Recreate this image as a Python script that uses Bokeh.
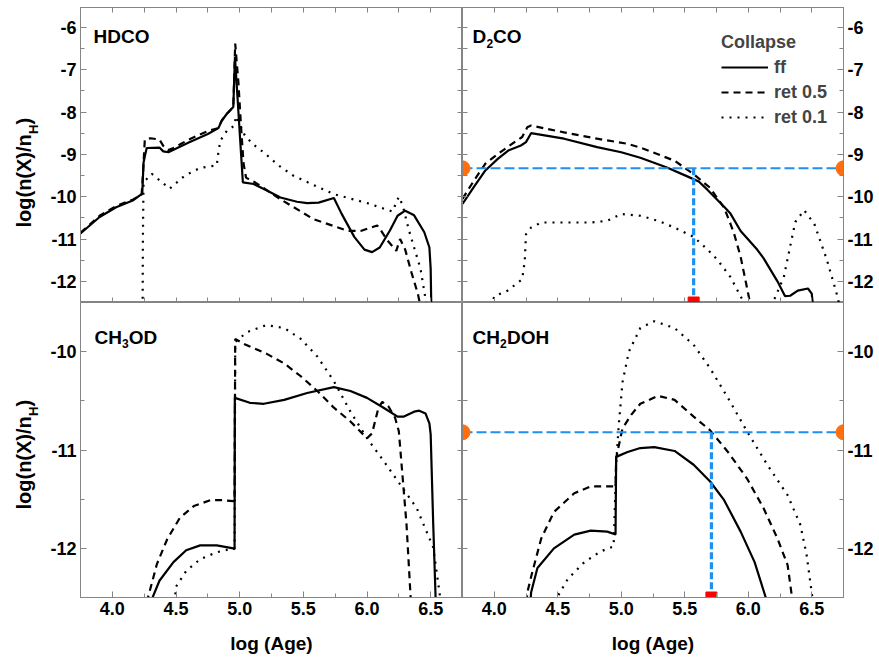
import math
from bokeh.plotting import figure
from bokeh.layouts import gridplot
from bokeh.models import (Range1d, LinearAxis, FixedTicker, PrintfTickFormatter,
                          Label, Legend, LegendItem)
from bokeh.embed import file_html
from bokeh.resources import INLINE

nan = float("nan")

# ---------------- axes / labels ----------------
age_range = (3.75, 6.75)
top_y_range = (-12.5, -5.53)
bottom_y_range = (-12.5, -9.5)
age_ticks = [4.0, 4.5, 5.0, 5.5, 6.0, 6.5]
age_minor = [4.25, 4.75, 5.25, 5.75, 6.25]
top_ticks = [-12, -11, -10, -9, -8, -7, -6]
top_minor = [-11.5, -10.5, -9.5, -8.5, -7.5, -6.5]
bottom_ticks = [-12, -11, -10]
bottom_minor = [-11.5, -10.5]
series_labels = ["ff", "ret 0.5", "ret 0.1"]
legend_title = "Collapse"
x_title = "log (Age)"
y_title = ("log(n(X)/n", "H", ")")

# ---------------- HDCO ----------------
hdco_ff_x = [3.75, 3.90, 4.03, 4.16, 4.235, 4.245, 4.255, 4.27, 4.37, 4.40, 4.44, 4.60, 4.75, 4.833,
             4.86, 4.90, 4.95, 4.963, 5.025, 5.11, 5.21, 5.32, 5.45, 5.53, 5.62, 5.74, 5.80, 5.90,
             5.98, 6.04, 6.10, 6.18, 6.24, 6.30, 6.37, 6.45, 6.49, 6.50, 6.505]
hdco_ff_y = [-10.87, -10.48, -10.25, -10.09, -9.93, -9.2, -9.05, -8.85, -8.84, -8.93, -8.95, -8.72,
             -8.52, -8.38, -8.20, -8.04, -7.88, -6.70, -9.66, -9.70, -9.85, -10.02, -10.12, -10.15,
             -10.14, -10.03, -10.4, -10.95, -11.25, -11.31, -11.2, -10.8, -10.45, -10.33, -10.44,
             -10.84, -11.2, -11.7, -12.6]
hdco_r05_x = [3.75, 3.90, 4.03, 4.16, 4.23, 4.24, 4.255, 4.30, 4.37, 4.40, 4.44, 4.48, 4.60, 4.75,
              4.83, 4.86, 4.90, 4.95, 4.965, 4.99, 5.01, 5.03, 5.05, 5.12, 5.32, 5.58, 5.85, 5.95,
              6.08, 6.11, 6.16, 6.23, 6.26, 6.30, 6.35, 6.40, 6.42]
hdco_r05_y = [-10.85, -10.45, -10.22, -10.07, -9.95, -9.5, -8.65, -8.62, -8.65, -8.8, -8.9, -8.85,
              -8.65, -8.45, -8.38, -8.2, -8.04, -7.88, -6.38, -7.3, -8.3, -9.2, -9.55, -9.66,
              -10.06, -10.53, -10.81, -10.81, -10.68, -10.80, -11.03, -11.28, -11.0, -11.25,
              -11.8, -12.3, -12.6]
hdco_r01_x = [4.238, 4.24, 4.245, 4.31, 4.45, 4.57, 4.69, 4.82, 4.835, 4.85, 4.90, 4.96, 4.97,
              5.04, 5.10, 5.20, 5.30, 5.42, 5.60, 5.74, 6.0, 6.2, 6.25, 6.28, 6.33, 6.42, 6.47]
hdco_r01_y = [-12.6, -11.0, -9.66, -9.46, -9.81, -9.50, -9.32, -9.26, -8.9, -8.67, -8.44, -8.32,
              -8.1, -8.55, -8.75, -8.98, -9.25, -9.5, -9.75, -9.94, -10.15, -10.35, -10.0, -10.2,
              -10.8, -11.7, -12.6]

# ---------------- D2CO ----------------
d2co_ff_x = [3.75, 3.84, 3.93, 4.03, 4.11, 4.21, 4.25, 4.29, 4.55, 4.81, 5.0, 5.15, 5.36, 5.52,
             5.61, 5.68, 5.81, 5.86, 5.94, 6.07, 6.12, 6.23, 6.29, 6.33, 6.39, 6.47, 6.50, 6.51]
d2co_ff_y = [-10.17, -9.77, -9.38, -9.10, -8.91, -8.79, -8.71, -8.50, -8.63, -8.83, -8.95, -9.08,
             -9.31, -9.52, -9.64, -9.84, -10.24, -10.40, -10.81, -11.25, -11.45, -12.0, -12.35,
             -12.34, -12.22, -12.17, -12.29, -12.6]
d2co_r05_x = [3.75, 3.84, 3.93, 4.03, 4.16, 4.22, 4.26, 4.29, 4.55, 4.81, 5.05, 5.15, 5.42, 5.57,
              5.70, 5.76, 5.81, 5.86, 5.89, 5.94, 5.99, 6.02]
d2co_r05_y = [-10.05, -9.62, -9.22, -8.99, -8.71, -8.59, -8.36, -8.32, -8.48, -8.63, -8.75, -8.84,
              -9.15, -9.47, -9.79, -10.05, -10.26, -10.64, -10.89, -11.42, -12.15, -12.6]
d2co_r01_x = [3.98, 4.0, 4.10, 4.22, 4.24, 4.25, 4.29, 4.37, 4.50, 4.76, 4.89, 5.0, 5.15, 5.29,
              5.42, 5.57, 5.68, 5.76, 5.86, 5.95, 5.97, nan, 6.19, 6.20, 6.28, 6.37, 6.44, 6.52,
              6.62, 6.70, 6.72]
d2co_r01_y = [-12.6, -12.35, -12.23, -11.95, -11.52, -10.89, -10.73, -10.61, -10.61, -10.61,
              -10.57, -10.41, -10.45, -10.57, -10.73, -10.95, -11.25, -11.50, -11.90, -12.41,
              -12.6, nan, -12.6, -12.46, -11.90, -10.60, -10.32, -10.64, -11.50, -12.33, -12.6]

# ---------------- CH3OD ----------------
ch3od_ff_x = [4.30, 4.37, 4.48, 4.58, 4.69, 4.82, 4.95, 4.96, 4.962, 5.08, 5.19, 5.35, 5.53, 5.74,
              5.87, 6.0, 6.13, 6.24, 6.29, 6.37, 6.41, 6.46, 6.49, 6.50, 6.52, 6.54]
ch3od_ff_y = [-12.55, -12.33, -12.14, -12.02, -11.97, -11.97, -12.0, -12.01, -10.47, -10.52,
              -10.53, -10.49, -10.42, -10.36, -10.40, -10.47, -10.57, -10.66, -10.66, -10.61,
              -10.60, -10.63, -10.73, -10.84, -11.75, -12.55]
ch3od_r05_x = [4.27, 4.35, 4.43, 4.53, 4.64, 4.77, 4.87, 4.95, 4.96, 4.965, 5.03, 5.21, 5.35, 5.48,
               5.61, 5.74, 5.87, 6.0, 6.04, 6.09, 6.12, 6.17, 6.22, 6.25, 6.28, 6.31, 6.345]
ch3od_r05_y = [-12.55, -12.16, -11.91, -11.69, -11.57, -11.51, -11.51, -11.52, -11.52, -9.87,
               -9.92, -10.02, -10.12, -10.25, -10.40, -10.57, -10.71, -10.88, -10.83, -10.57,
               -10.51, -10.56, -10.67, -10.81, -11.28, -11.75, -12.55]
ch3od_r01_x = [4.49, 4.50, 4.58, 4.69, 4.82, 4.95, 4.96, 4.965, 5.06, 5.21, 5.35, 5.48, 5.61, 5.74,
               5.87, 6.0, 6.13, 6.26, 6.39, 6.52, 6.58]
ch3od_r01_y = [-12.55, -12.39, -12.23, -12.11, -12.04, -12.0, -12.0, -9.9, -9.80, -9.73, -9.76,
               -9.87, -10.05, -10.30, -10.61, -10.88, -11.11, -11.35, -11.59, -11.99, -12.55]

# ---------------- CH2DOH ----------------
ch2doh_ff_x = [4.285, 4.29, 4.34, 4.47, 4.63, 4.76, 4.89, 4.955, 4.96, 5.05, 5.15, 5.26, 5.42,
               5.57, 5.70, 5.81, 5.94, 6.05, 6.15]
ch2doh_ff_y = [-12.55, -12.45, -12.20, -12.0, -11.86, -11.82, -11.83, -11.86, -11.07, -11.02,
               -10.98, -10.97, -11.01, -11.15, -11.32, -11.51, -11.83, -12.14, -12.55]
ch2doh_r05_x = [4.255, 4.26, 4.30, 4.37, 4.47, 4.63, 4.76, 4.955, 4.96, 5.01, 5.08, 5.15, 5.29,
                5.42, 5.57, 5.70, 5.84, 5.99, 6.12, 6.23, 6.31, 6.35]
ch2doh_r05_y = [-12.55, -12.45, -12.24, -11.90, -11.63, -11.44, -11.37, -11.37, -11.08, -10.78,
                -10.64, -10.53, -10.45, -10.49, -10.66, -10.80, -11.02, -11.29, -11.59, -11.90,
                -12.17, -12.55]
ch2doh_r01_x = [4.48, 4.49, 4.58, 4.71, 4.84, 4.94, 4.96, 4.98, 5.01, 5.06, 5.15, 5.26, 5.42,
                5.57, 5.70, 5.84, 5.99, 6.15, 6.31, 6.41, 6.46, 6.51]
ch2doh_r01_y = [-12.55, -12.51, -12.31, -12.14, -12.03, -11.98, -11.15, -10.75, -10.31, -10.0,
                -9.76, -9.69, -9.76, -9.93, -10.17, -10.47, -10.81, -11.15, -11.46, -11.76,
                -12.07, -12.55]

# ---------------- observed levels (blue guides) ----------------
d2co_level, d2co_age = -9.33, 5.57
ch2doh_level, ch2doh_age = -10.82, 5.71

# ---------------- styling ----------------
FONT = "Liberation Sans"
GRAY = "#858585"
BLUE = "#1f8ff0"
ORANGE = "#ff6f0f"
RED = "#ff0000"
styles = [dict(line_dash="solid"), dict(line_dash="7 5"), dict(line_dash="2 6")]


def labeled_axis(major, minor, fmt, label=None):
    a = LinearAxis(ticker=FixedTicker(ticks=major, minor_ticks=minor),
                   formatter=PrintfTickFormatter(format=fmt))
    a.axis_line_color = GRAY
    a.major_tick_line_color = GRAY
    a.minor_tick_line_color = GRAY
    a.major_tick_in = 6
    a.major_tick_out = 0
    a.minor_tick_in = 4
    a.minor_tick_out = 0
    a.major_label_text_font = FONT
    a.major_label_text_font_style = "bold"
    a.major_label_text_font_size = "18px"
    a.major_label_text_color = "black"
    a.major_label_standoff = 4
    if label:
        a.axis_label = label
        a.axis_label_text_font = FONT
        a.axis_label_text_font_style = "bold"
        a.axis_label_text_font_size = "19px"
        a.axis_label_text_color = "black"
        a.axis_label_standoff = 15
    return a


def bare_axis(major, minor, ticks=True):
    # an unlabeled side: every tick is drawn as a short inward mark
    a = LinearAxis(ticker=FixedTicker(ticks=[], minor_ticks=sorted(major + minor)))
    a.axis_line_color = GRAY
    a.minor_tick_line_color = GRAY if ticks else None
    a.minor_tick_in = 5 if ticks else 0
    a.minor_tick_out = 0
    a.major_tick_in = 0
    a.major_tick_out = 0
    a.major_label_standoff = 0
    return a


def make_panel(col, row):
    left = col == 0
    top = row == 0
    yr = top_y_range if top else bottom_y_range
    ymaj = top_ticks if top else bottom_ticks
    ymin = top_minor if top else bottom_minor
    p = figure(width=417, height=302 if top else 358,
               x_range=Range1d(*age_range), y_range=Range1d(*yr),
               output_backend="svg", toolbar_location=None,
               x_axis_location=None, y_axis_location=None,
               min_border_left=35 if left else 0, min_border_right=0 if left else 36,
               min_border_top=7 if top else 0, min_border_bottom=0 if top else 63)
    p.xgrid.visible = False
    p.ygrid.visible = False
    p.outline_line_color = GRAY
    p.background_fill_color = "white"
    p.border_fill_color = "white"
    if left:
        p.add_layout(labeled_axis(ymaj, ymin, "%d"), "left")
        p.add_layout(bare_axis(ymaj, ymin), "right")
    else:
        p.add_layout(bare_axis(ymaj, ymin), "left")
        p.add_layout(labeled_axis(ymaj, ymin, "%d"), "right")
    if top:
        p.add_layout(bare_axis(age_ticks, age_minor), "below")
        p.add_layout(bare_axis(age_ticks, age_minor), "above")
    else:
        p.add_layout(labeled_axis(age_ticks, age_minor, "%.1f", x_title), "below")
        p.add_layout(bare_axis(age_ticks, age_minor, ticks=False), "above")
    return p


def make_label_column(height, y0):
    # narrow strip at the far left holding the rotated y-axis title
    p = figure(width=45, height=height, output_backend="svg", toolbar_location=None,
               x_axis_location=None, y_axis_location=None, min_border=0)
    p.xgrid.visible = False
    p.ygrid.visible = False
    p.outline_line_color = None
    p.background_fill_color = "white"
    p.border_fill_color = "white"
    main, sub, close = y_title
    common = dict(x_units="screen", y_units="screen", angle=math.pi / 2,
                  text_font=FONT, text_font_style="bold", text_baseline="alphabetic",
                  text_align="left", text_color="black")
    p.add_layout(Label(x=23, y=y0, text=main, text_font_size="20px", **common))
    p.add_layout(Label(x=33, y=y0 + 93.5, text=sub, text_font_size="13px", **common))
    p.add_layout(Label(x=23, y=y0 + 103, text=close, text_font_size="20px", **common))
    return p


def add_curves(p, xs_list, ys_list):
    rs = []
    for xs, ys, st in zip(xs_list, ys_list, styles):
        rs.append(p.line(xs, ys, line_color="black", line_width=2.2, **st))
    return rs


def title_labels(p, base_y, parts):
    for text, dx, sub in parts:
        p.add_layout(Label(x=dx, y=base_y - (6.5 if sub else 0), text=text,
                           x_units="screen", y_units="screen",
                           text_font=FONT, text_font_style="bold",
                           text_font_size="12px" if sub else "19px",
                           text_baseline="alphabetic", text_align="left",
                           text_color="black"))


def add_guides(p, level, age):
    x0, x1 = age_range
    y_bottom = p.y_range.start
    p.segment(x0=[x0], y0=[level], x1=[x1], y1=[level], line_color=BLUE, line_width=2,
              line_dash="10 4")
    p.segment(x0=[age], y0=[level], x1=[age], y1=[y_bottom], line_color=BLUE, line_width=3.2,
              line_dash="7 3")
    p.scatter(x=[x0, x1], y=[level, level], size=15, marker="circle", fill_color=ORANGE,
              line_color=ORANGE)
    p.scatter(x=[age], y=[y_bottom], size=11, marker="square", fill_color=RED, line_color=RED)


p_tl = make_panel(0, 0)
p_tr = make_panel(1, 0)
p_bl = make_panel(0, 1)
p_br = make_panel(1, 1)
lab_top = make_label_column(302, 75)
lab_bot = make_label_column(358, 88)

add_curves(p_tl, [hdco_ff_x, hdco_r05_x, hdco_r01_x], [hdco_ff_y, hdco_r05_y, hdco_r01_y])
tr_rs = add_curves(p_tr, [d2co_ff_x, d2co_r05_x, d2co_r01_x], [d2co_ff_y, d2co_r05_y, d2co_r01_y])
add_curves(p_bl, [ch3od_ff_x, ch3od_r05_x, ch3od_r01_x], [ch3od_ff_y, ch3od_r05_y, ch3od_r01_y])
add_curves(p_br, [ch2doh_ff_x, ch2doh_r05_x, ch2doh_r01_x],
           [ch2doh_ff_y, ch2doh_r05_y, ch2doh_r01_y])

add_guides(p_tr, d2co_level, d2co_age)
add_guides(p_br, ch2doh_level, ch2doh_age)

title_labels(p_tl, 266, [("HDCO", 13, False)])
title_labels(p_tr, 266, [("D", 10, False), ("2", 24, True), ("CO", 30.5, False)])
title_labels(p_bl, 260.5, [("CH", 14, False), ("3", 41.5, True), ("OD", 48.3, False)])
title_labels(p_br, 260.5, [("CH", 10, False), ("2", 37.5, True), ("DOH", 44.5, False)])

legend = Legend(items=[LegendItem(label=lab, renderers=[r]) for lab, r in zip(series_labels, tr_rs)],
                title=legend_title, location=(259, 174), padding=0, margin=0, spacing=3,
                glyph_width=47, glyph_height=22, label_height=22, label_standoff=6,
                title_standoff=3, border_line_alpha=0, background_fill_alpha=0,
                label_text_font=FONT, label_text_font_style="bold", label_text_font_size="18px",
                title_text_font=FONT, title_text_font_style="bold", title_text_font_size="18px")
p_tr.add_layout(legend)

grid = gridplot([[lab_top, p_tl, p_tr], [lab_bot, p_bl, p_br]], toolbar_location=None)

open("out.html", "w").write(file_html(grid, INLINE))
